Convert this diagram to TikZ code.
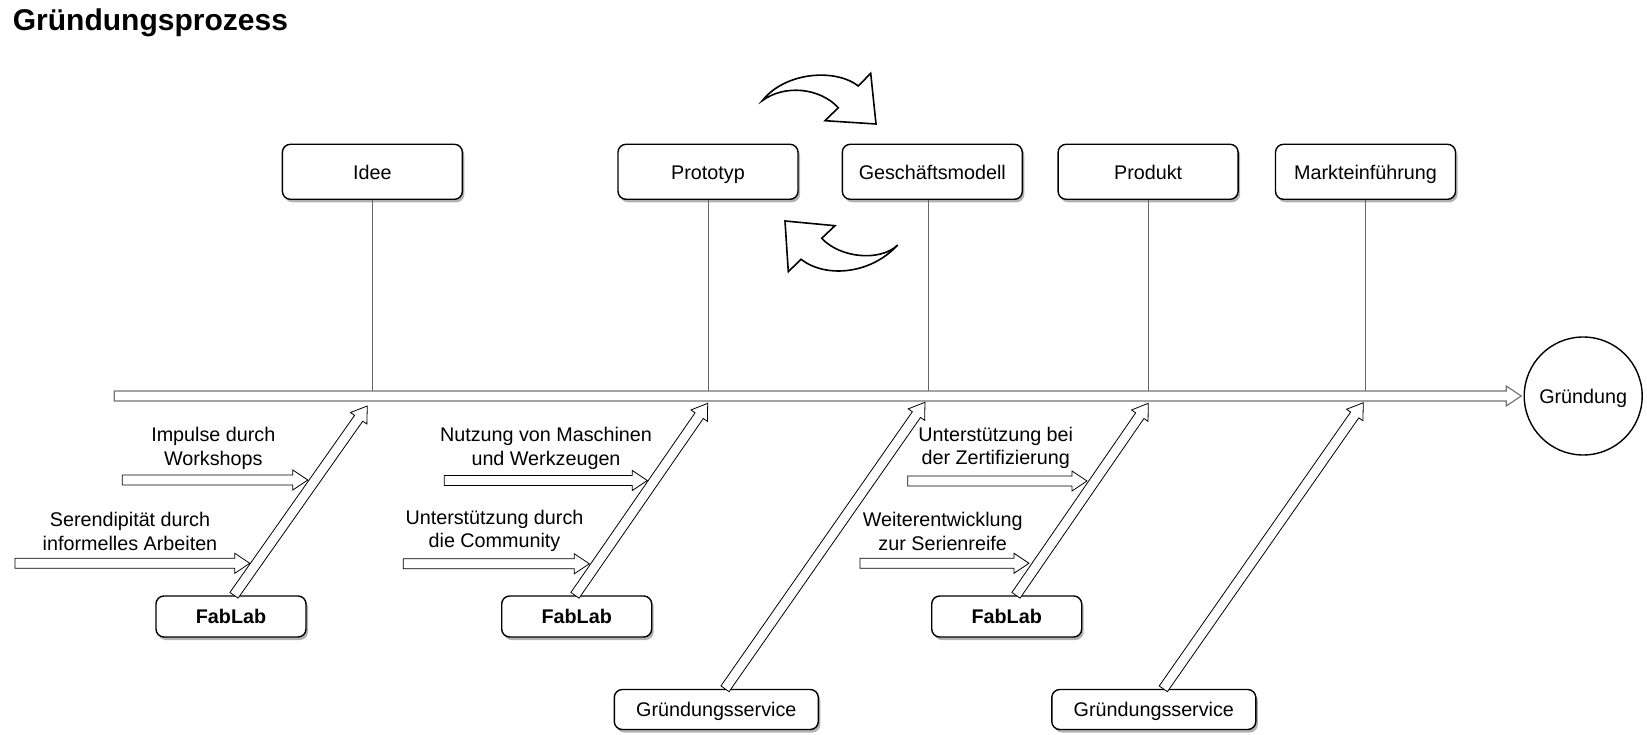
\documentclass[tikz,border=0pt]{standalone}
\usepackage{fontspec}
\setmainfont{Liberation Sans}
\usetikzlibrary{calc,shadows}
\newcommand{\flexarr}[3][]{%
  \coordinate (fah) at ($(#3)!15pt!(#2)$);
  \draw[flexarrow,#1] ($(#2)!5pt!90:(#3)$) -- ($(fah)!5pt!90:(#3)$) -- ($(fah)!10pt!90:(#3)$) -- (#3)
    -- ($(fah)!10pt!-90:(#3)$) -- ($(fah)!5pt!-90:(#3)$) -- ($(#2)!5pt!-90:(#3)$) -- cycle;}
\begin{document}
\begin{tikzpicture}[x=1pt,y=-1pt,
  txt/.style={font=\fontsize{19.75}{23.7}\selectfont},
  lbl/.style={txt, align=center, inner sep=0pt},
  boxbase/.style={draw, line width=1.4pt, rounded corners=8pt, fill=white, inner sep=0pt,
     text height=14.8pt, text depth=0pt,
     drop shadow={shadow xshift=2pt, shadow yshift=-3pt, opacity=0.3, fill=black}},
  topbox/.style={boxbase, txt, minimum width=180pt, minimum height=55pt},
  fabbox/.style={boxbase, txt, font=\fontsize{19.75}{23.7}\selectfont\bfseries, minimum width=150pt, minimum height=41pt},
  gsbox/.style={boxbase, txt, minimum width=204pt, minimum height=40pt},
  flexarrow/.style={draw=black, line width=0.8pt, fill=white, line join=miter},
  spinearrow/.style={draw=black!55, line width=1.2pt},
  vline/.style={draw=black!60, line width=1pt},
  curved/.style={draw=black, line width=1.6pt, fill=white, line join=miter}]
\useasboundingbox (0,0) rectangle (1647,735);

% title
\node[anchor=base west, inner sep=0pt, font=\fontsize{30}{36}\selectfont\bfseries] (title) at (12.7,30.7) {Gründungsprozess};

% top boxes
\node[topbox] (idee) at (372.4,171.8) {Idee};
\node[topbox] (proto) at (708,171.8) {Prototyp};
\node[topbox] (gm) at (932.3,171.8) {Geschäftsmodell};
\node[topbox] (prod) at (1148.1,171.8) {Produkt};
\node[topbox] (markt) at (1365.5,171.8) {Markteinführung};

% vertical lines
\draw[vline] (idee.south) -- (idee.south |- 0,391);
\draw[vline] (proto.south) -- (proto.south |- 0,391);
\draw[vline] ($(gm.south)+(-4,0)$) -- ($(gm.south |- 0,391)+(-4,0)$);
\draw[vline] (prod.south) -- (prod.south |- 0,391);
\draw[vline] (markt.south) -- (markt.south |- 0,391);

% goal
\node[draw, circle, line width=1.4pt, minimum size=118pt, inner sep=0pt, txt, text height=14.8pt, text depth=0pt] (gruendung) at (1583.2,396) {Gründung};

% spine
\coordinate (spS) at (114.3,396);
\coordinate (spE) at ($(gruendung.west)+(-2.3,0)$);
\flexarr[spinearrow]{spS}{spE}

% bottom boxes
\node[fabbox] (fab1) at (231,616.5) {FabLab};
\node[fabbox] (fab2) at (576.7,616.5) {FabLab};
\node[fabbox] (fab3) at (1006.7,616.5) {FabLab};
\node[gsbox] (gs1) at (716.3,709.5) {Gründungsservice};
\node[gsbox] (gs2) at (1153.8,709.5) {Gründungsservice};

% diagonal arrows
\coordinate (d1s) at ($(fab1.north)+(3,0)$);   \coordinate (d1e) at (367.3,406);
\coordinate (d2s) at ($(fab2.north)+(-1.7,0)$); \coordinate (d2e) at (707.7,403.3);
\coordinate (d3s) at ($(fab3.north)+(9.3,0)$); \coordinate (d3e) at (1148.3,403.3);
\coordinate (g1s) at ($(gs1.north)+(8.7,0)$);  \coordinate (g1e) at (925,402.3);
\coordinate (g2s) at ($(gs2.north)+(9.5,0)$);  \coordinate (g2e) at (1363.3,402.7);
\flexarr{d1s}{d1e}
\flexarr{d2s}{d2e}
\flexarr{d3s}{d3e}
\flexarr{g1s}{g1e}
\flexarr{g2s}{g2e}

% horizontal arrows
\coordinate (h1s) at (122.3,480);  \coordinate (h1e) at (307.8,480);
\coordinate (h2s) at (15,563.3);   \coordinate (h2e) at (249.8,563.3);
\coordinate (h3s) at (444.3,480.5);\coordinate (h3e) at (647.3,480.5);
\coordinate (h4s) at (403.3,563.8);\coordinate (h4e) at (589.3,563.8);
\coordinate (h5s) at (907.7,481);  \coordinate (h5e) at (1087,481);
\coordinate (h6s) at (860,563.3);  \coordinate (h6e) at (1029,563.3);
\flexarr{h1s}{h1e}
\flexarr{h2s}{h2e}
\flexarr{h3s}{h3e}
\flexarr{h4s}{h4e}
\flexarr{h5s}{h5e}
\flexarr{h6s}{h6e}

% labels
\node[lbl] (l1) at (213.3,448.5) {Impulse durch\\Workshops};
\node[lbl] (l2) at (130,531.5) {Serendipität durch\\informelles Arbeiten};
\node[lbl] (l3) at (546,448.5) {Nutzung von Maschinen\\und Werkzeugen};
\node[lbl] (l4) at (494.5,531) {Unterstützung durch\\die Community};
\node[lbl] (l5) at (995.7,448) {Unterstützung bei\\der Zertifizierung};
\node[lbl] (l6) at (942.7,531.3) {Weiterentwicklung\\zur Serienreife};

% curved arrows
\draw[curved] (762.3,100.7) .. controls (785,72) and (835,68) .. (858.3,86) -- (870.7,73.3) -- (876,124)
  -- (825,120.7) -- (838.3,107.7) .. controls (820,88) and (785,84) .. (762.3,100.7) -- cycle;
\draw[curved] (785,221) -- (835,225.7) -- (821.7,238.3) .. controls (840,258) and (880,262) .. (897.7,245)
  .. controls (870,275) and (825,278) .. (801,259.3) -- (788.3,271.7) -- cycle;
\end{tikzpicture}
\end{document}
